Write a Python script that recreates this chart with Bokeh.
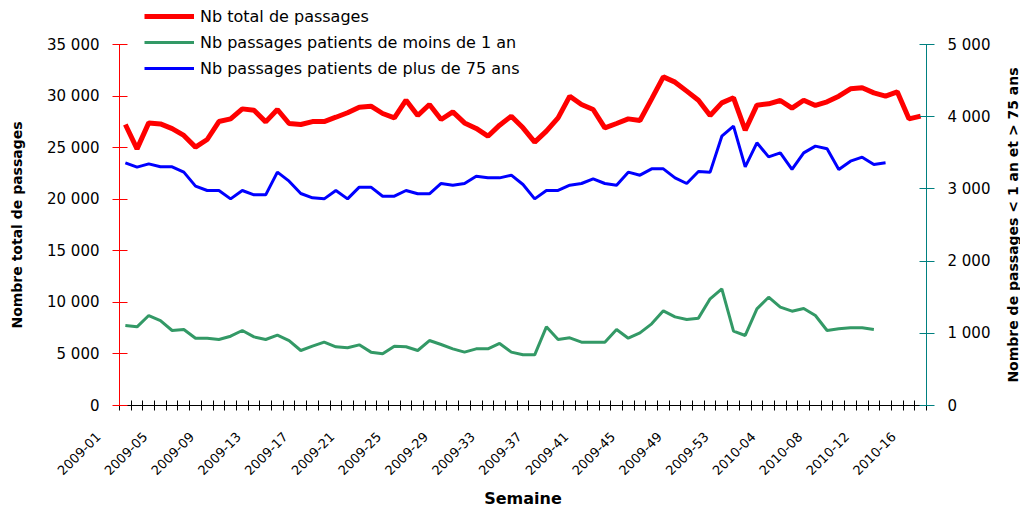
import math
from bokeh.plotting import figure
from bokeh.models import (Range1d, LinearAxis, FixedTicker, Legend, LegendItem,
                          LabelSet, Label, ColumnDataSource)
from bokeh.core.properties import value
from bokeh.embed import file_html
from bokeh.resources import INLINE

# ---- data ----
weeks = [f"2009-{w:02d}" for w in range(1, 54)] + [f"2010-{w:02d}" for w in range(1, 17)]

total_passages = [
    27240, 24880, 27400, 27300, 26850, 26180, 25050, 25790, 27530, 27790,
    28760, 28630, 27500, 28700, 27340, 27240, 27530, 27530, 27950, 28380,
    28920, 29020, 28310, 27890, 29600, 28120, 29180, 27730, 28470, 27400,
    26860, 26110, 27180, 28050, 26920, 25530, 26600, 27890, 29990, 29180,
    28700, 26920, 27340, 27790, 27630, 29730, 31860, 31350, 30480, 29600,
    28120, 29340, 29830, 26690, 29120, 29250, 29570, 28830, 29600, 29090,
    29440, 29990, 30700, 30800, 30310, 29990, 30410, 27790, 28050,
]

moins_1_an = [
    1108, 1090, 1246, 1177, 1039, 1053, 932, 932, 914, 960,
    1039, 951, 914, 974, 900, 762, 822, 877, 813, 799,
    840, 739, 716, 822, 813, 762, 900, 845, 785, 739,
    785, 785, 859, 739, 702, 702, 1090, 914, 937, 877,
    877, 877, 1053, 932, 1006, 1131, 1311, 1228, 1191, 1210,
    1478, 1616, 1029, 970, 1339, 1500, 1362, 1306, 1343, 1246,
    1039, 1062, 1076, 1076, 1053,
]

plus_75_ans = [
    3361, 3301, 3347, 3306, 3306, 3232, 3038, 2978, 2978, 2862,
    2978, 2918, 2918, 3232, 3107, 2936, 2876, 2862, 2978, 2862,
    3024, 3024, 2899, 2899, 2978, 2932, 2932, 3075, 3052, 3075,
    3176, 3153, 3153, 3190, 3061, 2862, 2978, 2978, 3052, 3075,
    3139, 3075, 3052, 3232, 3190, 3278, 3278, 3153, 3075, 3240,
    3232, 3730, 3869, 3306, 3638, 3444, 3499, 3269, 3499, 3592,
    3555, 3269, 3384, 3439, 3338, 3361,
]

left_ticks = [0, 5000, 10000, 15000, 20000, 25000, 30000, 35000]
left_tick_labels = ["0", "5 000", "10 000", "15 000", "20 000", "25 000", "30 000", "35 000"]
right_ticks = [0, 1000, 2000, 3000, 4000, 5000]
right_tick_labels = ["0", "1 000", "2 000", "3 000", "4 000", "5 000"]
label_every = 4

# ---- layout geometry (page pixels) ----
FONT = "DejaVu Sans"
n = len(weeks)
LEFT_MAX, RIGHT_MAX = 35000, 5000
OX, OY = 1, 1            # where the canvas lands on the page
W, H = 1020, 509
X0_PX, X1_PX = 120, 927  # page x of the left / right axes
Y0_PX, Y1_PX = 406, 45   # page y of 0 and of the axes' maxima

ppx = (X1_PX - X0_PX) / n
x_start = -(X0_PX - OX) / ppx
x_end = n + (OX + W - X1_PX) / ppx
ppy = (Y0_PX - Y1_PX) / LEFT_MAX
y_start = -(OY + H - Y0_PX) / ppy
y_end = LEFT_MAX + (Y1_PX - OY) / ppy
k = RIGHT_MAX / LEFT_MAX

def sx(page_x):
    return page_x - OX

def sy(page_y):
    return OY + H - page_y

p = figure(width=W, height=H, min_border=0,
           x_range=Range1d(x_start, x_end), y_range=Range1d(y_start, y_end),
           x_axis_type=None, y_axis_type=None,
           output_backend="svg", toolbar_location=None)
p.extra_y_ranges = {"right": Range1d(y_start * k, y_end * k)}
p.outline_line_color = None
p.background_fill_color = "white"
p.border_fill_color = "white"

# ---- axes ----
yl = LinearAxis(ticker=FixedTicker(ticks=left_ticks),
                major_label_overrides=dict(zip(left_ticks, left_tick_labels)),
                fixed_location=0, bounds=(0, LEFT_MAX))
yl.axis_line_color = "#FF0000"
yl.major_tick_line_color = "#FF0000"
yl.major_tick_in = 8
yl.major_tick_out = 7
yl.major_label_standoff = 13
yl.major_label_text_font = FONT
yl.major_label_text_font_size = "15px"
yl.major_label_text_color = "black"
p.add_layout(yl, "left")

yr = LinearAxis(y_range_name="right", ticker=FixedTicker(ticks=right_ticks),
                major_label_overrides=dict(zip(right_ticks, right_tick_labels)),
                fixed_location=n, bounds=(0, RIGHT_MAX))
yr.axis_line_color = "#008080"
yr.major_tick_line_color = "#008080"
yr.major_tick_in = 7
yr.major_tick_out = 8
yr.major_label_standoff = 13
yr.major_label_text_font = FONT
yr.major_label_text_font_size = "15px"
yr.major_label_text_color = "black"
p.add_layout(yr, "right")

xb = LinearAxis(ticker=FixedTicker(ticks=list(range(0, n + 1))),
                major_label_overrides={i: "" for i in range(0, n + 1)},
                fixed_location=0, bounds=(0, n))
xb.axis_line_color = "black"
xb.major_tick_line_color = "black"
xb.major_tick_in = 5
xb.major_tick_out = 5
xb.major_label_text_font_size = "0px"
xb.major_label_text_color = None
p.add_layout(xb, "below")

# week labels (every 4th week), rotated like the original
label_idx = list(range(0, n, label_every))
lab_src = ColumnDataSource(dict(x=[i + 0.5 for i in label_idx],
                                text=[weeks[i] for i in label_idx]))
p.add_layout(LabelSet(x="x", y=0, text="text", source=lab_src,
                      x_offset=-27, y_offset=-29, angle=math.pi / 4,
                      text_align="right", text_baseline="middle",
                      text_font=value(FONT), text_font_size="13px", text_color="black"))

# axis titles
title_style = dict(x_units="screen", y_units="screen", text_align="center",
                   text_baseline="middle", text_font=FONT, text_font_style="bold",
                   text_color="black")
p.add_layout(Label(x=sx(17), y=sy((Y0_PX + Y1_PX) / 2), angle=math.pi / 2,
                   text="Nombre total de passages", text_font_size="14px", **title_style))
p.add_layout(Label(x=sx(1013), y=sy((Y0_PX + Y1_PX) / 2), angle=math.pi / 2,
                   text="Nombre de passages < 1 an et > 75 ans", text_font_size="14px",
                   **title_style))
p.add_layout(Label(x=sx((X0_PX + X1_PX) / 2), y=sy(499), text="Semaine",
                   text_font_size="16px", **title_style))

# ---- lines ----
xs_total = [i + 0.5 for i in range(len(total_passages))]
xs_moins = [i + 0.5 for i in range(len(moins_1_an))]
xs_plus = [i + 0.5 for i in range(len(plus_75_ans))]

r_green = p.line(xs_moins, moins_1_an, y_range_name="right", line_color="#339966", line_width=3)
r_blue = p.line(xs_plus, plus_75_ans, y_range_name="right", line_color="#0000FF", line_width=3)
r_red = p.line(xs_total, total_passages, line_color="#FF0000", line_width=5)

legend = Legend(items=[
    LegendItem(label="Nb total de passages", renderers=[r_red]),
    LegendItem(label="Nb passages patients de moins de 1 an", renderers=[r_green]),
    LegendItem(label="Nb passages patients de plus de 75 ans", renderers=[r_blue]),
], location=(sx(145), sy(79)))
legend.border_line_color = None
legend.background_fill_alpha = 0
legend.padding = 0
legend.margin = 0
legend.spacing = 6
legend.glyph_width = 50
legend.glyph_height = 20
legend.label_height = 20
legend.label_standoff = 6
legend.label_text_font = FONT
legend.label_text_font_size = "16px"
legend.label_text_color = "black"
p.add_layout(legend)

open("out.html", "w").write(file_html(p, INLINE))
